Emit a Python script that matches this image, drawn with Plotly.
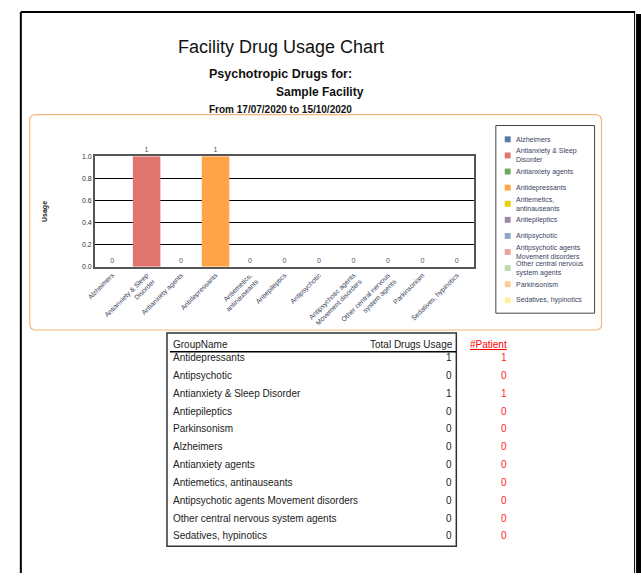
import plotly.graph_objects as go

# ---------------- data ----------------
categories = ["Alzheimers", "Antianxiety & Sleep Disorder", "Antianxiety agents",
              "Antidepressants", "Antiemetics, antinauseants", "Antiepileptics",
              "Antipsychotic", "Antipsychotic agents Movement disorders",
              "Other central nervous system agents", "Parkinsonism", "Sedatives, hypinotics"]
tick_labels = ["Alzheimers", "Antianxiety & Sleep<br>Disorder", "Antianxiety agents",
               "Antidepressants", "Antiemetics,<br>antinauseants", "Antiepileptics",
               "Antipsychotic", "Antipsychotic agents<br>Movement disorders",
               "Other central nervous<br>system agents", "Parkinsonism", "Sedatives, hypinotics"]
usage = [0, 1, 0, 1, 0, 0, 0, 0, 0, 0, 0]
series_colors = ["#5A78A6", "#E07570", "#6DAA58", "#FFA548", "#E9CF0A", "#9C8AA6",
                 "#8FA6C8", "#E9A29C", "#BCDAAE", "#FFCB9A", "#FFF19A"]
y_ticks = [0.0, 0.2, 0.4, 0.6, 0.8, 1.0]

table_groups = ["Antidepressants", "Antipsychotic", "Antianxiety & Sleep Disorder",
                "Antiepileptics", "Parkinsonism", "Alzheimers", "Antianxiety agents",
                "Antiemetics, antinauseants", "Antipsychotic agents Movement disorders",
                "Other central nervous system agents", "Sedatives, hypinotics"]
table_usage = [1, 0, 1, 0, 0, 0, 0, 0, 0, 0, 0]
table_patients = [1, 0, 1, 0, 0, 0, 0, 0, 0, 0, 0]

W, H = 641, 576
FONT = "Arial, Liberation Sans, sans-serif"


def px(x):
    return x / W


def py(y):
    return 1 - y / H


fig = go.Figure()
fig.add_trace(go.Bar(
    x=categories, y=usage,
    marker=dict(color=series_colors, line=dict(width=0)),
    text=[str(v) for v in usage], textposition="outside",
    textfont=dict(size=7, color="#555555", family=FONT),
    cliponaxis=False, showlegend=False, width=0.8,
))

shapes = []
annotations = []

# page frame
shapes.append(dict(type="line", xref="paper", yref="paper", x0=px(13), x1=px(13), y0=py(8), y1=py(576),
                   line=dict(color="black", width=2)))
shapes.append(dict(type="line", xref="paper", yref="paper", x0=px(13), x1=px(635), y0=py(8), y1=py(8),
                   line=dict(color="black", width=2)))
shapes.append(dict(type="line", xref="paper", yref="paper", x0=px(634.5), x1=px(634.5), y0=py(8), y1=py(576),
                   line=dict(color="black", width=1)))
shapes.append(dict(type="rect", xref="paper", yref="paper", x0=px(636), x1=px(641), y0=py(10), y1=py(576),
                   line=dict(width=0), fillcolor="black"))

# rounded orange chart frame
x0, x1, y0, y1, r = px(22), px(601), py(112), py(330), 6
rx, ry = r / W, r / H
path = (f"M {x0+rx},{y0} L {x1-rx},{y0} Q {x1},{y0} {x1},{y0-ry} L {x1},{y1+ry} "
        f"Q {x1},{y1} {x1-rx},{y1} L {x0+rx},{y1} Q {x0},{y1} {x0},{y1+ry} L {x0},{y0-ry} "
        f"Q {x0},{y0} {x0+rx},{y0} Z")
shapes.append(dict(type="path", xref="paper", yref="paper", path=path,
                   line=dict(color="#F8B57A", width=1.2)))

# legend box
shapes.append(dict(type="rect", xref="paper", yref="paper", x0=px(494), x1=px(594), y0=py(123), y1=py(313),
                   line=dict(color="#444444", width=1)))
for i, (lab, col) in enumerate(zip(tick_labels, series_colors)):
    yc = 137 + i * 16.3
    shapes.append(dict(type="rect", xref="paper", yref="paper", x0=px(503), x1=px(509),
                       y0=py(yc - 3), y1=py(yc + 3), line=dict(width=0), fillcolor=col))
    annotations.append(dict(xref="paper", yref="paper", x=px(512), y=py(yc), text=lab,
                            showarrow=False, xanchor="left", yanchor="middle", align="left",
                            font=dict(size=7, color="#3a4560", family=FONT)))

# titles
annotations += [
    dict(xref="paper", yref="paper", x=px(276), y=py(44), text="Facility Drug Usage Chart", showarrow=False,
         font=dict(size=18, color="#111111", family=FONT), xanchor="center", yanchor="middle"),
    dict(xref="paper", yref="paper", x=px(276), y=py(71), text="<b>Psychotropic Drugs for:</b>", showarrow=False,
         font=dict(size=12.5, color="#111111", family=FONT), xanchor="center", yanchor="middle"),
    dict(xref="paper", yref="paper", x=px(316), y=py(89), text="<b>Sample Facility</b>", showarrow=False,
         font=dict(size=12, color="#111111", family=FONT), xanchor="center", yanchor="middle"),
    dict(xref="paper", yref="paper", x=px(276), y=py(106.5), text="<b>From 17/07/2020 to 15/10/2020</b>",
         showarrow=False, font=dict(size=10, color="#111111", family=FONT), xanchor="center", yanchor="middle"),
    dict(xref="paper", yref="paper", x=px(38), y=py(210), text="<b>Usage</b>", showarrow=False, textangle=-90,
         font=dict(size=7, color="#222222", family=FONT), xanchor="center", yanchor="middle"),
]

# table
shapes.append(dict(type="rect", xref="paper", yref="paper", x0=px(161), x1=px(454), y0=py(333), y1=py(549),
                   line=dict(color="#333333", width=1.5)))
shapes.append(dict(type="line", xref="paper", yref="paper", x0=px(164), x1=px(454), y0=py(352), y1=py(352),
                   line=dict(color="black", width=1.5)))
tfont = dict(size=10, color="#222222", family=FONT)
annotations += [
    dict(xref="paper", yref="paper", x=px(165), y=py(345), text="GroupName", showarrow=False,
         xanchor="left", yanchor="middle", font=tfont),
    dict(xref="paper", yref="paper", x=px(453), y=py(345), text="Total Drugs Usage", showarrow=False,
         xanchor="right", yanchor="middle", font=tfont),
    dict(xref="paper", yref="paper", x=px(487), y=py(345), text="<u>#Patient</u>", showarrow=False,
         xanchor="center", yanchor="middle", font=dict(size=10, color="#FF0000", family=FONT)),
]
for i, (g, u, p) in enumerate(zip(table_groups, table_usage, table_patients)):
    yy = 358 + i * 18.05
    annotations.append(dict(xref="paper", yref="paper", x=px(165), y=py(yy), text=g, showarrow=False,
                            xanchor="left", yanchor="middle", font=tfont))
    annotations.append(dict(xref="paper", yref="paper", x=px(452), y=py(yy), text=str(u), showarrow=False,
                            xanchor="right", yanchor="middle", font=tfont))
    annotations.append(dict(xref="paper", yref="paper", x=px(502), y=py(yy), text=str(p), showarrow=False,
                            xanchor="center", yanchor="middle",
                            font=dict(size=10, color="#FF2020", family=FONT)))

fig.update_layout(
    width=W, height=H, margin=dict(l=0, r=0, t=0, b=0),
    paper_bgcolor="white", plot_bgcolor="white",
    bargap=0.2, showlegend=False,
    shapes=shapes, annotations=annotations,
    xaxis=dict(domain=[px(88), px(472)], tickmode="array", tickvals=categories, ticktext=tick_labels,
               tickangle=-45, tickfont=dict(size=6.8, color="#3a4560", family=FONT),
               showline=True, linecolor="#555555", linewidth=2, mirror=True, ticks="",
               showgrid=False, fixedrange=True),
    yaxis=dict(domain=[py(266), py(154)], range=[0, 1], tickvals=y_ticks, tickformat=".1f",
               tickfont=dict(size=7, color="#333333", family=FONT),
               showgrid=True, gridcolor="black", gridwidth=1,
               showline=True, linecolor="#555555", linewidth=1.5, mirror=True, ticks="",
               zeroline=False, fixedrange=True),
    font=dict(family=FONT),
)

fig.write_html("out.html", config={"displayModeBar": False},
               post_script="document.body.style.margin='0';document.body.style.overflow='hidden';")
